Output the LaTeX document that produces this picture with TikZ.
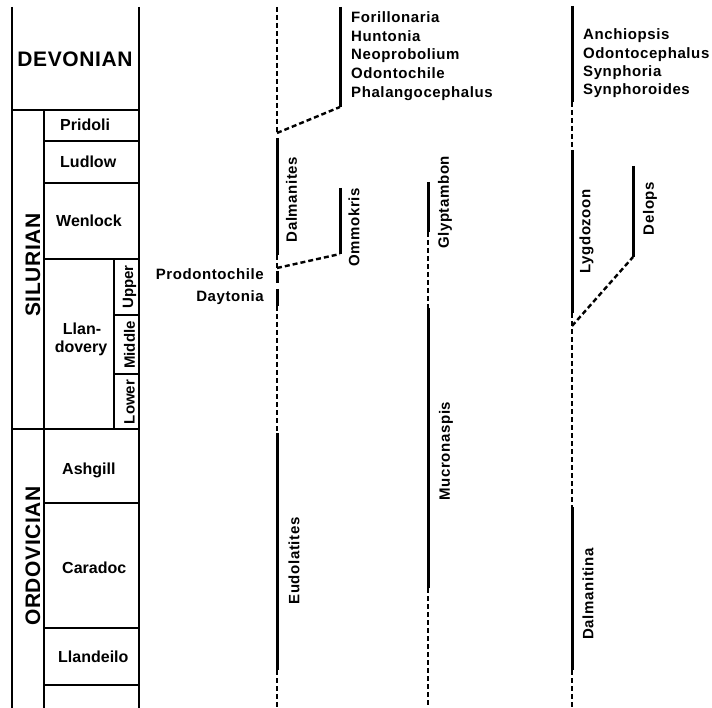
\documentclass[tikz,border=0pt]{standalone}
\usepackage{fontspec}
\setmainfont{Liberation Sans}
\newfontfamily\gfont{Liberation Sans}[LetterSpace=4]
\newfontfamily\efont{Liberation Sans}[LetterSpace=3]
\tikzset{
  tab/.style={line width=1.4pt},
  solidln/.style={line width=3pt},
  dashln/.style={line width=2.4pt, dash pattern=on 5pt off 3pt},
  era/.style={font=\efont\bfseries\fontsize{21}{21}\selectfont, inner sep=0pt},
  stage/.style={font=\bfseries\fontsize{16}{18}\selectfont, inner sep=0pt},
  sublab/.style={font=\bfseries\fontsize{15}{15}\selectfont, inner sep=0pt, rotate=90},
  genus/.style={font=\gfont\bfseries\fontsize{15}{15}\selectfont, inner sep=0pt},
  vgenus/.style={genus, rotate=90}
}
\begin{document}
\begin{tikzpicture}[x=1pt,y=-1pt]
\useasboundingbox (0,0) rectangle (712,708);
\fill[white] (0,0) rectangle (712,708);

% ---------- stratigraphic table ----------
\draw[tab] (12,7) -- (12,708);
\draw[tab] (139,7) -- (139,708);
\draw[tab] (44,110) -- (44,708);
\draw[tab] (12,110) -- (139,110);
\draw[tab] (44,141) -- (139,141);
\draw[tab] (44,183) -- (139,183);
\draw[tab] (44,259) -- (139,259);
\draw[tab] (114,259) -- (114,429);
\draw[tab] (114,315) -- (139,315);
\draw[tab] (114,374) -- (139,374);
\draw[tab] (12,429) -- (139,429);
\draw[tab] (44,503) -- (139,503);
\draw[tab] (44,628) -- (139,628);
\draw[tab] (44,685) -- (139,685);

\node[era] (dev) at (75,59.5) {DEVONIAN};
\node[era, rotate=90] (sil) at (33,265) {SILURIAN};
\node[era, rotate=90] (ord) at (33,556) {ORDOVICIAN};

\node[stage, anchor=base west] (pri) at (60,131) {Pridoli};
\node[stage, anchor=base west] (lud) at (60,168) {Ludlow};
\node[stage, anchor=base west] (wen) at (56,227) {Wenlock};
\node[stage, anchor=base] (lla1) at (82,335) {Llan-};
\node[stage, anchor=base] (lla2) at (81,353) {dovery};
\node[stage, anchor=base west] (ash) at (62,474) {Ashgill};
\node[stage, anchor=base west] (car) at (62,573) {Caradoc};
\node[stage, anchor=base west] (lld) at (58,662) {Llandeilo};

\node[sublab] (upp) at (129.5,287) {Upper};
\node[sublab] (mid) at (129.5,345) {Middle};
\node[sublab] (low) at (129.5,402) {Lower};

% ---------- range coordinates ----------
% column 1
\coordinate (c1top) at (277,7);
\coordinate (c1a) at (277,133);
\coordinate (dalT) at (277,138);
\coordinate (dalB) at (277,255);
\coordinate (c1b) at (277,268);
\coordinate (proT) at (277,271);
\coordinate (proB) at (277,283);
\coordinate (dayT) at (277,289);
\coordinate (dayB) at (277,306);
\coordinate (eudT) at (277,433);
\coordinate (eudB) at (277,670);
\coordinate (c1end) at (277,708);
% column 3 (offshoots)
\coordinate (forT) at (340,7);
\coordinate (forB) at (340,107);
\coordinate (omT) at (340,188);
\coordinate (omB) at (340,254);
% column 2
\coordinate (glT) at (428,182);
\coordinate (glB) at (428,232);
\coordinate (muT) at (428,308);
\coordinate (muB) at (428,588);
\coordinate (c2end) at (428,708);
% column 4
\coordinate (anT) at (572,6);
\coordinate (anB) at (572,102);
\coordinate (lyT) at (572,150);
\coordinate (lyB) at (572,313);
\coordinate (c4b) at (572,326);
\coordinate (dmT) at (572,507);
\coordinate (dmB) at (572,670);
\coordinate (c4end) at (572,708);
\coordinate (deT) at (633,166);
\coordinate (deB) at (633,257);

% ---------- ranges ----------
\draw[dashln] (c1top) -- (c1a);
\draw[dashln] (c1a) -- (forB);
\draw[solidln] (forT) -- (forB);
\draw[solidln] (dalT) -- (dalB);
\draw[dashln] (dalB) -- (c1b);
\draw[dashln] (c1b) -- (omB);
\draw[solidln] (omT) -- (omB);
\draw[solidln] (proT) -- (proB);
\draw[solidln] (dayT) -- (dayB);
\draw[dashln] (dayB) -- (eudT);
\draw[solidln] (eudT) -- (eudB);
\draw[dashln] (eudB) -- (c1end);

\draw[solidln] (glT) -- (glB);
\draw[dashln] (glB) -- (muT);
\draw[solidln] (muT) -- (muB);
\draw[dashln] (muB) -- (c2end);

\draw[solidln] (anT) -- (anB);
\draw[dashln] (anB) -- (lyT);
\draw[solidln] (lyT) -- (lyB);
\draw[dashln] (lyB) -- (dmT);
\draw[dashln] (c4b) -- (deB);
\draw[solidln] (deT) -- (deB);
\draw[solidln] (dmT) -- (dmB);
\draw[dashln] (dmB) -- (c4end);

% ---------- genus labels ----------
\node[genus, anchor=base west] (g1) at (351,22.5) {Forillonaria};
\node[genus, anchor=base west] (g2) at (351,41.25) {Huntonia};
\node[genus, anchor=base west] (g3) at (351,60) {Neoprobolium};
\node[genus, anchor=base west] (g4) at (351,78.75) {Odontochile};
\node[genus, anchor=base west] (g5) at (351,97.5) {Phalangocephalus};

\node[genus, anchor=base west] (h1) at (583,40) {Anchiopsis};
\node[genus, anchor=base west] (h2) at (583,58.3) {Odontocephalus};
\node[genus, anchor=base west] (h3) at (583,76.7) {Synphoria};
\node[genus, anchor=base west] (h4) at (583,95) {Synphoroides};

\node[genus, anchor=base east] (pro) at (264,280) {Prodontochile};
\node[genus, anchor=base east] (day) at (264,302) {Daytonia};

\node[vgenus] (dal) at (291.5,199.5) {Dalmanites};
\node[vgenus] (omm) at (354,227.5) {Ommokris};
\node[vgenus] (gly) at (445,202.5) {Glyptambon};
\node[vgenus] (muc) at (446,451) {Mucronaspis};
\node[vgenus] (eud) at (294,561) {Eudolatites};
\node[vgenus] (lyg) at (586.5,231.5) {Lygdozoon};
\node[vgenus] (del) at (650,208.5) {Delops};
\node[vgenus] (dma) at (588,594) {Dalmanitina};
\end{tikzpicture}
\end{document}
